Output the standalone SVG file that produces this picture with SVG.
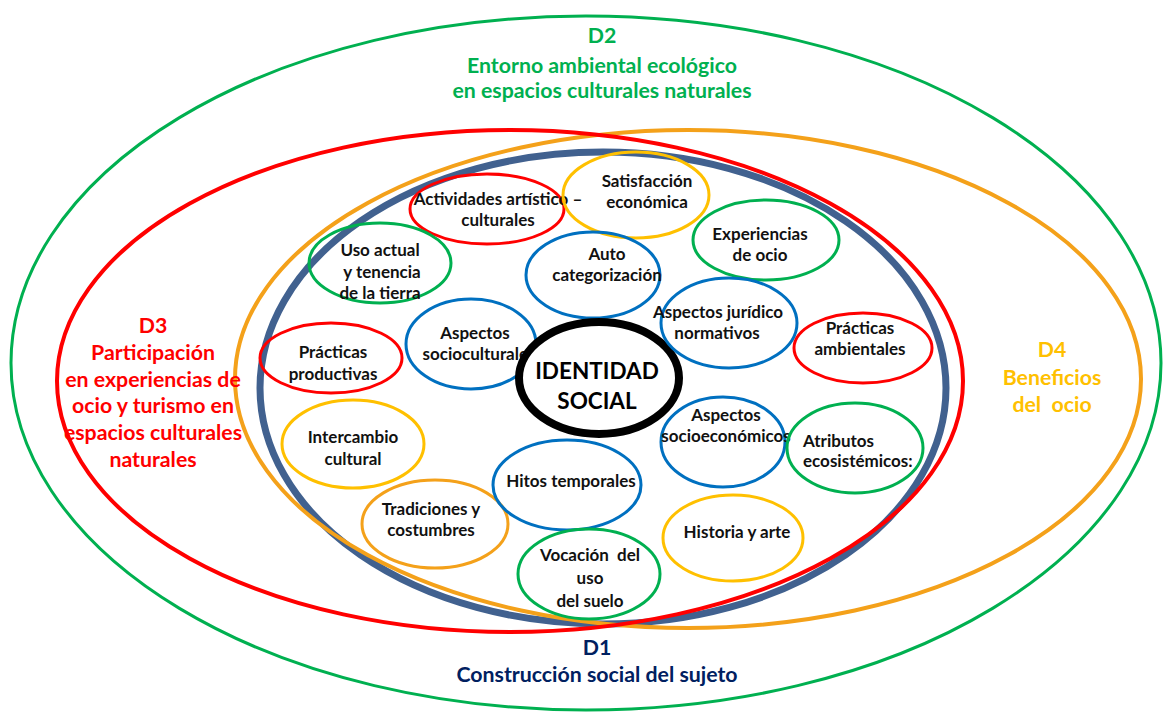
<svg xmlns="http://www.w3.org/2000/svg" width="1165" height="717" viewBox="0 0 1165 717">
<style>
text{font-family:Lato,"Open Sans","Liberation Sans",sans-serif;font-weight:bold;text-anchor:middle}
.n{font-size:17px;fill:#111}
.t{font-size:21.3px}
.big{fill:none}
.node{fill:none;stroke-width:3}
.blue{stroke:#0070C0}.red{stroke:#FF0000}.green{stroke:#00B050}.yellow{stroke:#FFC000}.orange{stroke:#F4A11A}
</style>
<rect width="1165" height="717" fill="#fff"/>
<g id="dimensions">
<ellipse id="d2-ring" class="big" cx="586" cy="363" rx="575" ry="347" stroke="#00B050" stroke-width="3"/>
<ellipse id="d1-ring" class="big" cx="603" cy="388" rx="343" ry="236" stroke="#41618F" stroke-width="7"/>
<ellipse id="d4-ring" class="big" cx="688" cy="379" rx="453" ry="249" stroke="#F4A11A" stroke-width="4"/>
<ellipse id="d3-ring" class="big" cx="510" cy="381" rx="453" ry="251" stroke="#FF0000" stroke-width="4"/>
</g>
<g id="labels">
<g id="d2-label" fill="#00B050"><text x="602" y="43" class="t">D2</text><text x="602" y="73" class="t">Entorno ambiental ecológico</text><text x="602" y="98" class="t">en espacios culturales naturales</text></g>
<g id="d1-label" fill="#002060"><text x="597" y="655" class="t">D1</text><text x="597" y="682" class="t">Construcción social del sujeto</text></g>
<g id="d3-label" fill="#FF0000"><text x="153" y="333" class="t">D3</text><text x="153" y="360" class="t">Participación</text><text x="153" y="387" class="t">en experiencias de</text><text x="153" y="413" class="t">ocio y turismo en</text><text x="153" y="440" class="t">espacios culturales</text><text x="153" y="467" class="t">naturales</text></g>
<g id="d4-label" fill="#FFC000"><text x="1052" y="357" class="t">D4</text><text x="1052" y="385" class="t">Beneficios</text><text x="1052" y="412" class="t" xml:space="preserve">del  ocio</text></g>
</g>
<g id="connectors"/>
<g id="n-actividades"><ellipse class="node red" cx="487" cy="209" rx="77" ry="35"/><text class="n" x="498" y="205">Actividades artístico –</text><text class="n" x="498" y="226">culturales</text></g>
<g id="n-satisfaccion"><ellipse class="node yellow" cx="636" cy="195" rx="73" ry="43"/><text class="n" x="647" y="187">Satisfacción</text><text class="n" x="647" y="208">económica</text></g>
<g id="n-experiencias"><ellipse class="node green" cx="766" cy="240" rx="73" ry="40"/><text class="n" x="760" y="240">Experiencias</text><text class="n" x="760" y="261">de ocio</text></g>
<g id="n-auto"><ellipse class="node blue" cx="593" cy="275" rx="67" ry="43"/><text class="n" x="607" y="260">Auto</text><text class="n" x="607" y="281">categorización</text></g>
<g id="n-uso"><ellipse class="node green" cx="380" cy="263" rx="71" ry="40"/><text class="n" x="380" y="256">Uso actual</text><text class="n" x="382" y="278">y tenencia</text><text class="n" x="380" y="299">de la tierra</text></g>
<g id="n-practicas-prod"><ellipse class="node red" cx="331" cy="358" rx="71" ry="35"/><text class="n" x="333" y="358">Prácticas</text><text class="n" x="333" y="380">productivas</text></g>
<g id="n-socioculturales"><ellipse class="node blue" cx="471" cy="344" rx="65" ry="45"/><text class="n" x="475" y="339">Aspectos</text><text class="n" x="479" y="360">socioculturales</text></g>
<g id="n-identidad"><ellipse cx="599" cy="378" rx="80" ry="56" fill="#fff" stroke="#000" stroke-width="8"/><text x="597" y="379" style="font-size:22.5px;fill:#000">IDENTIDAD</text><text x="597" y="409" style="font-size:22.5px;fill:#000">SOCIAL</text></g>
<g id="n-juridico"><ellipse class="node blue" cx="729" cy="323" rx="68" ry="45"/><text class="n" x="718" y="318">Aspectos jurídico</text><text class="n" x="717" y="339">normativos</text></g>
<g id="n-practicas-amb"><ellipse class="node red" cx="863" cy="348" rx="69" ry="35"/><text class="n" x="860" y="334">Prácticas</text><text class="n" x="860" y="355">ambientales</text></g>
<g id="n-socioeconomicos"><ellipse class="node blue" cx="723" cy="442" rx="62" ry="45"/><text class="n" x="726" y="421">Aspectos</text><text class="n" x="726" y="442">socioeconómicos</text></g>
<g id="n-atributos"><ellipse class="node green" cx="855" cy="448" rx="68" ry="45"/><text class="n" x="803" y="447" style="text-anchor:start">Atributos</text><text class="n" x="803" y="467" style="text-anchor:start">ecosistémicos:</text></g>
<g id="n-intercambio"><ellipse class="node yellow" cx="353" cy="444" rx="71" ry="44"/><text class="n" x="353" y="443">Intercambio</text><text class="n" x="353" y="465">cultural</text></g>
<g id="n-tradiciones"><ellipse class="node orange" cx="435" cy="524" rx="73" ry="44"/><text class="n" x="431" y="515">Tradiciones y</text><text class="n" x="431" y="536">costumbres</text></g>
<g id="n-hitos"><ellipse class="node blue" cx="567" cy="485" rx="74" ry="45"/><text class="n" x="571" y="487">Hitos temporales</text></g>
<g id="n-vocacion"><ellipse class="node green" cx="589" cy="574" rx="71" ry="45"/><text class="n" x="590" y="561" xml:space="preserve">Vocación  del</text><text class="n" x="590" y="584">uso</text><text class="n" x="590" y="607">del suelo</text></g>
<g id="n-historia"><ellipse class="node yellow" cx="733" cy="538" rx="70" ry="43"/><text class="n" x="737" y="538">Historia y arte</text></g>
</svg>
